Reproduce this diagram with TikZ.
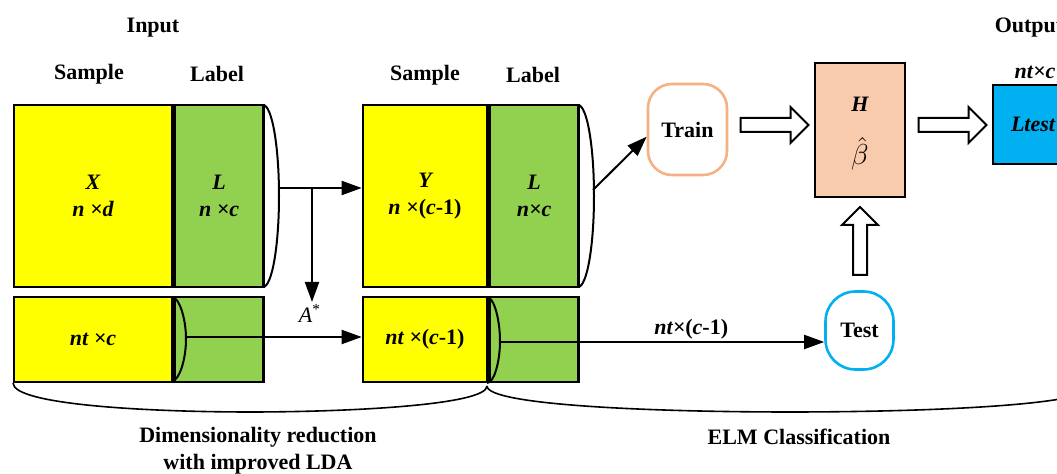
\documentclass[tikz,border=0pt]{standalone}
\usepackage{fontspec}
\setmainfont{Liberation Serif}
\usetikzlibrary{arrows.meta, shapes.arrows}
\definecolor{samplefill}{HTML}{FFFF00}
\definecolor{labelfill}{HTML}{92D050}
\definecolor{elmfill}{HTML}{F8CBAD}
\definecolor{trainedge}{HTML}{F4B183}
\definecolor{testedge}{HTML}{00B0F0}
\colorlet{ltestfill}{testedge}
\tikzset{
  cell/.style={draw, line width=1.3pt, inner sep=0pt, align=center, font=\bfseries\itshape},
  sample/.style={cell, fill=samplefill},
  labelcell/.style={cell, fill=labelfill, anchor=west},
  heading/.style={font=\bfseries},
  bracket/.style={line width=1pt},
  spanline/.style={line width=0.8pt},
  flow/.style={-{Triangle[length=10pt,width=7pt]}, line width=1pt},
  phase/.style={draw, line width=1.3pt, font=\bfseries},
  blockarrow/.style={single arrow, draw, line width=1pt, fill=white, inner xsep=0pt, inner ysep=3pt,
    minimum height=34pt, single arrow head extend=5.5pt}
}

\begin{document}
\fontsize{11pt}{13.5pt}\selectfont
\begin{tikzpicture}[x=0.5pt, y=-0.5pt]
    \path[use as bounding box] (0,0) rectangle (1057,474);
    \clip (0,0) rectangle (1057,474);
    \node[heading] (input) at (153,28) {Input};
    \node[heading] (samplehd) at (89,74) {Sample};
    \node[heading] (labelhd) at (217,74) {Label};
    \node[heading] (samplehdb) at (425,75) {Sample};
    \node[heading] (labelhdb) at (533,75) {Label};

    \node[sample, minimum width=79pt, minimum height=91pt] (X) at (93,196) {X\\n ×d};
    \node[labelcell, minimum width=44.5pt, minimum height=91pt] (LX) at (X.east) {L\\n ×c};
    \node[sample, minimum width=62pt, minimum height=91pt] (Y) at (425,196) {Y\\n ×\textup{(}c\textup{-1)}};
    \node[labelcell, minimum width=44.5pt, minimum height=91pt] (LY) at (Y.east) {L\\n×c};
    \node[sample, minimum width=79pt, minimum height=42.5pt] (T) at (93,339.5) {nt ×c};
    \node[labelcell, minimum width=44.5pt, minimum height=42.5pt] (LT) at (T.east) {};
    \node[sample, minimum width=62pt, minimum height=42.5pt] (TY) at (425,339.5) {nt ×\textup{(}c\textup{-1)}};
    \node[labelcell, minimum width=44.5pt, minimum height=42.5pt] (LTY) at (TY.east) {};

    \draw[bracket] (263,105) .. controls (272,105) and (279,146) .. (279,196) .. controls (279,246) and (272,287) .. (263,287);
    \draw[bracket] (578,105) .. controls (587,105) and (594,146) .. (594,196) .. controls (594,246) and (587,287) .. (578,287);
    \draw[bracket] (172,297) .. controls (179,297) and (186,318) .. (186,339) .. controls (186,360) and (179,381) .. (172,381);
    \draw[bracket] (487,297) .. controls (494,297) and (500,320) .. (500,341) .. controls (500,362) and (494,383) .. (487,383);
    \coordinate (brx) at (279,188);
    \coordinate (split) at (312,188);
    \coordinate (bry) at (593,190);
    \coordinate (brt) at (186,337);
    \coordinate (brty) at (500,342);

    \node[phase, draw=trainedge, minimum width=39.5pt, minimum height=45.5pt, rounded corners=12pt] (train) at (687.5,129.5) {Train};
    \node[phase, draw=testedge, minimum width=34pt, minimum height=39pt, rounded corners=15pt] (test) at (859.5,330.5) {Test};
    \node[draw, fill=elmfill, line width=1.3pt, minimum width=45pt, minimum height=67pt] (elm) at (860,130) {};
    \node[font=\bfseries\itshape] (hmat) at (860,104) {H};
    \node[font=\Large] (beta) at (860,154) {$\hat{\beta}$};
    \node[draw, fill=ltestfill, line width=1.3pt, minimum width=40pt, minimum height=39.5pt, font=\bfseries\itshape] (ltest) at (1033,124.5) {Ltest};
    \node[font=\bfseries\itshape] (ltestdim) at (1035,72) {nt×c};
    \node[heading] (output) at (1029,28) {Output};

    \node[blockarrow] (toelm) at (771,125) {};
    \node[blockarrow] (toltest) at (949,125) {};
    \node[blockarrow, rotate=90] (fromtest) at (860,244.5) {};

    \node[anchor=north, inner sep=1pt] (astar) at (310,302) {\textit{A}\textsuperscript{*}};
    \draw[flow] (brx) -- (brx -| Y.west);
    \draw[flow] (split) -- (split |- astar.north);
    \draw[flow] (brt) -- (brt -| TY.west);
    \draw[flow] (brty) -- (brty -| test.west) node[pos=0.59, above, inner sep=1pt, font=\bfseries\itshape] (testdim) {nt×\textup{(}c\textup{-1)}};
    \draw[flow] (bry) -- (train.190);

    \draw[spanline] (13,383) .. controls (13,405) and (150,412) .. (250,412) .. controls (350,412) and (487,405) .. (487,386);
    \draw[spanline] (487,386) .. controls (487,405) and (650,412) .. (790,412) .. controls (930,412) and (1093,405) .. (1093,386);
    \node[heading, align=center] (dimred) at (258,451) {Dimensionality reduction\\with improved LDA};
    \node[heading] (elmcls) at (799,437) {ELM Classification};
\end{tikzpicture}
\end{document}
